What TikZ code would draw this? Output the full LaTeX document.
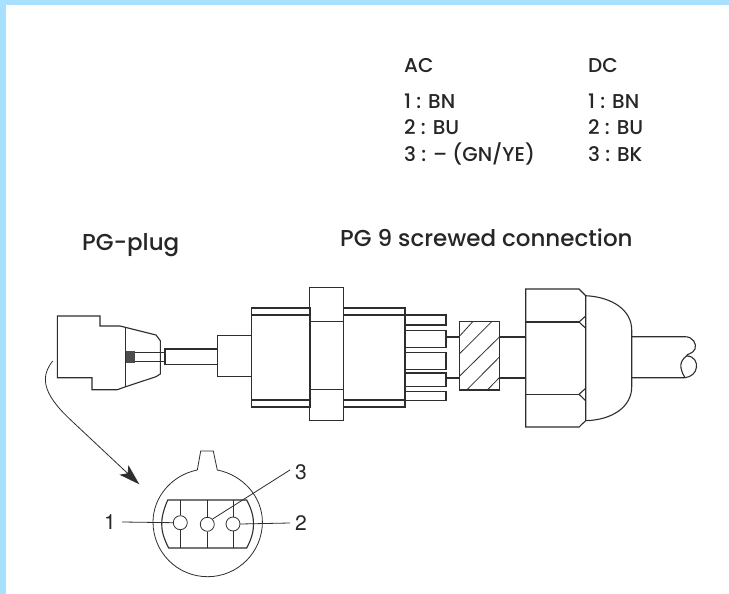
\documentclass[tikz,border=0pt]{standalone}
\usepackage{fontspec}
\usepackage{xcolor}
\setmainfont{Poppins Medium}
\newfontfamily\pinfont{TeX Gyre Heros}
\usetikzlibrary{arrows.meta}
\definecolor{bandblue}{HTML}{A8E0FF}
\definecolor{inkgrey}{HTML}{2E2E2E}
\tikzstyle{part} = [draw=inkgrey, line width=1.1pt, line join=miter]
\tikzstyle{thinpart} = [draw=inkgrey, line width=0.8pt]
\tikzstyle{caption} = [anchor=base west, inner sep=0pt, text=black!85, font=\fontsize{23}{27}\selectfont]
\tikzstyle{wiretext} = [anchor=base west, inner sep=0pt, text=black!85, font=\fontsize{20}{24}\selectfont]
\tikzstyle{pinno} = [inner sep=0pt, text=black!85, font=\pinfont\fontsize{21}{24}\selectfont]
\tikzstyle{pin} = [circle, draw=inkgrey, line width=0.8pt, fill=white, minimum size=14pt, inner sep=0pt]

\begin{document}
\begin{tikzpicture}[x=1pt, y=-1pt]
        \useasboundingbox (0,0) rectangle (729,594);
        \fill[bandblue] (0,0) rectangle (729,594);
        \fill[white] (6,5) rectangle (729,594);

        \node[wiretext] (ac) at (404,73) {AC};
        \node[wiretext] (dc) at (588,73) {DC};
        \node[wiretext] (acone) at (404,109) {1 : BN};
        \node[wiretext] (actwo) at (404,135) {2 : BU};
        \node[wiretext] (acthree) at (404,161) {3 : -- (GN/YE)};
        \node[wiretext] (dcone) at (588,109) {1 : BN};
        \node[wiretext] (dctwo) at (588,135) {2 : BU};
        \node[wiretext] (dcthree) at (588,161) {3 : BK};
        \node[caption] (plugname) at (82,250) {PG-plug};
        \node[caption] (screwname) at (340,246.3) {PG 9 screwed connection};

        % plug
        \draw[part] (57.3,316) -- (100,316) -- (100,326) -- (120,326) -- (156,335) -- (160.3,340.7)
            -- (160.3,374) -- (156,376.7) -- (125.7,386.7) -- (117.3,389.7) -- (92,389.7)
            -- (92,377.7) -- (57.3,377.7) -- cycle;
        \draw[thinpart] (125.7,328) -- (125.7,387);
        \fill[inkgrey!85] (126,350.7) rectangle (134.7,362.7);
        \draw[thinpart] (134.7,352.3) -- (165,352.3) (134.7,361) -- (165,361);
        \draw[part] (165,349) rectangle (217.3,364.3);
        \draw[part] (217.3,335.3) rectangle (251.7,376.3);

        % screwed connection
        \draw[part] (251.7,308) rectangle (310,407);
        \draw[part] (251.7,315) rectangle (310,400);
        \draw[part] (343.7,308) rectangle (405,407);
        \draw[part] (343.7,315) rectangle (405,400);
        \draw[part] (309.7,287.7) rectangle (343.7,420.7);
        \draw[part] (309.7,321.7) -- (343.7,321.7) (309.7,389.3) -- (343.7,389.3);
        \foreach \ytop/\ybot in {315/325, 330.7/347.3, 352.7/369.3, 373/386.3, 391.7/400.3}
            \draw[part] (405,\ytop) -- (446,\ytop) -- (446,\ybot) -- (405,\ybot);
        \draw[part] (446,337) -- (459.3,337) (446,378) -- (459.3,378);

        \draw[part] (459.3,321.7) rectangle (499.7,390);
        \draw[thinpart] (460,335.7) -- (472.7,321.7) (460,353.3) -- (491.7,321.7)
            (460,375.7) -- (499.7,336.7) (466.7,390) -- (499.7,356.7) (487.3,390) -- (499.7,377.3);
        \draw[part] (499.7,337) -- (525.7,337) (499.7,378) -- (525.7,378);

        % nut and cable
        \draw[part] (585.7,295.7) -- (579,289) -- (525.7,289) -- (525.7,427) -- (579,427) -- (585.7,420.7) -- cycle;
        \draw[part] (525.7,322) -- (579,322) (525.7,394.3) -- (579,394.3);
        \draw[part] (585.7,316) -- (579,322) -- (585.7,328.3);
        \draw[part] (585.7,388.3) -- (579,394.3) -- (585.7,400.7);
        \draw[part] (585.7,295.7) .. controls (612,297) and (631.7,310) .. (631.7,330)
            -- (631.7,387) .. controls (631.7,407) and (612,420) .. (585.7,420.7);
        \draw[part] (631.7,336.7) -- (685,336.7) .. controls (693,336.7) and (697,344) .. (695,349)
            .. controls (693,354) and (686,354) .. (686.5,356)
            .. controls (695,356) and (697,363) .. (696.5,367)
            .. controls (696,373) and (691,377) .. (685,377.7) -- (631.7,377.7);
        \draw[part] (686.5,356) .. controls (682,359) and (680,364) .. (681,368) .. controls (682,372) and (683,375) .. (685,377.7);

        % front view
        \node[pin] (pinone) at (180.3,522.7) {};
        \node[pin] (pinthree) at (207.3,524.3) {};
        \node[pin] (pintwo) at (233,524) {};
        \draw[thinpart] (197.3,470) -- (200.7,451) -- (213.3,451) -- (217.3,470);
        \draw[thinpart] (217.3,470) .. controls (243,475) and (262.4,497) .. (262.4,522)
            .. controls (262.4,552) and (238,576.7) .. (207.7,576.7)
            .. controls (177,576.7) and (153,552) .. (153,522)
            .. controls (153,497) and (172,475) .. (197.3,470);
        \draw[part] (167.7,500) -- (246.7,500) .. controls (252,510) and (253.5,517) .. (253.5,524)
            .. controls (253.5,531) and (252,538) .. (246.7,548) -- (168.7,548)
            .. controls (163.5,538) and (161.7,531) .. (161.7,524)
            .. controls (161.7,517) and (163.5,510) .. (167.7,500) -- cycle;
        \foreach \pinname/\pinx in {pinone/180.3, pinthree/207.3, pintwo/233}
            \draw[thinpart] (\pinx,500) -- (\pinname.north) (\pinname.south) -- (\pinx,548);

        \node[pinno] (labone) at (110,522) {1};
        \node[pinno] (labtwo) at (301,523) {2};
        \node[pinno] (labthree) at (301,472) {3};
        \draw[thinpart] ([xshift=6pt]labone.east) -- (pinone.west);
        \draw[thinpart] (pintwo.east) -- ([xshift=-5pt]labtwo.west);
        \draw[thinpart] (pinthree.north east) -- ([xshift=-5pt,yshift=2pt]labthree.west);

        % arrow
        \coordinate (bendstart) at (52.7,361);
        \coordinate (bendtip) at (139.3,484.3);
        \draw[line width=0.8pt, draw=inkgrey, -{Stealth[length=21pt, width=13pt, inset=5pt]}] (bendstart)
            .. controls (41,376) and (41,392) .. (70,419.3) -- (bendtip);
    \end{tikzpicture}
\end{document}
